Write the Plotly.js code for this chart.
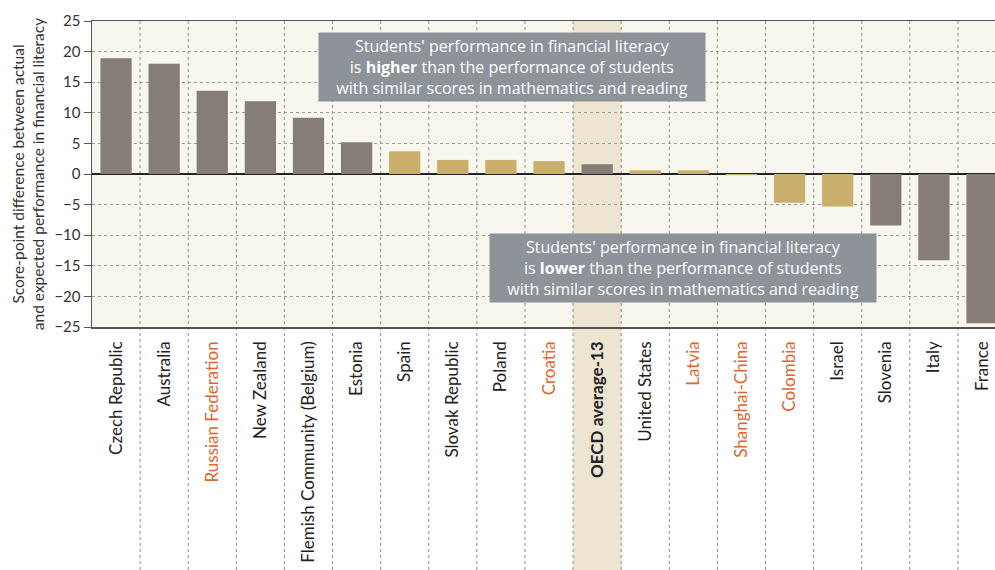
<!DOCTYPE html>
<html>
<head>
<meta charset="utf-8">
<script src="https://cdn.plot.ly/plotly-3.0.1.min.js"></script>
<style>
html,body{margin:0;padding:0;background:#ffffff;overflow:hidden;}
#chart{width:995px;height:570px;}
</style>
</head>
<body>
<div id="chart"></div>
<script>
// Data
const categories = ["Czech Republic","Australia","Russian Federation","New Zealand","Flemish Community (Belgium)","Estonia","Spain","Slovak Republic","Poland","Croatia","OECD average-13","United States","Latvia","Shanghai-China","Colombia","Israel","Slovenia","Italy","France"];
const values = [18.9,18.0,13.6,11.9,9.2,5.2,3.7,2.3,2.3,2.1,1.6,0.6,0.6,-0.2,-4.7,-5.3,-8.4,-14.1,-24.4];
const significant = [true,true,true,true,true,true,false,false,false,false,true,false,false,false,false,false,true,true,true];
const partner = [false,false,true,false,false,false,false,false,false,true,false,false,true,true,true,false,false,false,false];
const averageLabel = "OECD average-13";
const yTicks = [25,20,15,10,5,0,-5,-10,-15,-20,-25];

const FONT = "Lato, 'Open Sans', sans-serif";
const BOXFONT = "'Open Sans', Lato, sans-serif";
const x = categories.map((c,i)=>i);
const barColors = significant.map(s => s ? "#867d77" : "#c9ae6c");
const tickText = categories.map((c,i)=>{
  if (c === averageLabel) return "<b>" + c + "</b>";
  if (partner[i]) return '<span style="color:#e0662f">' + c + '</span>';
  return c;
});
const avgIdx = categories.indexOf(averageLabel);

const plotH = 306, bottomM = 243;
const shapes = [];
// highlight column for OECD average
shapes.push({type:"rect", xref:"x", yref:"paper", x0:avgIdx-0.5, x1:avgIdx+0.5, y0:-bottomM/plotH, y1:1,
  fillcolor:"#ede4d2", line:{width:0}, layer:"below"});
// vertical dashed separators
for (let i=0;i<categories.length-1;i++){
  shapes.push({type:"line", xref:"x", yref:"paper", x0:i+0.5, x1:i+0.5, y0:-bottomM/plotH, y1:1,
    line:{color:"#8c8c8c", width:1, dash:"3px,3px"}, layer:"below"});
}

const data = [{
  type:"bar", x:x, y:values, width:0.65,
  marker:{color:barColors, line:{width:0}},
  hoverinfo:"skip"
}];

const layout = {
  width:995, height:570,
  margin:{l:92, r:0, t:21, b:bottomM, pad:0},
  paper_bgcolor:"#ffffff",
  plot_bgcolor:"#f8f7ee",
  showlegend:false,
  font:{family:FONT, color:"#222"},
  xaxis:{
    range:[-0.5, 18.27],
    tickmode:"array", tickvals:x, ticktext:tickText,
    tickangle:-90, tickfont:{size:17, color:"#222", family:FONT},
    showgrid:false, zeroline:false,
    showline:true, mirror:true, linecolor:"#555", linewidth:1.5,
    ticks:"", ticklabelstandoff:6,
    fixedrange:true
  },
  yaxis:{
    range:[-25,25], tickmode:"array", tickvals:yTicks,
    tickfont:{size:15, color:"#333", family:FONT},
    ticks:"outside", ticklen:7, tickcolor:"#555", tickwidth:1,
    showline:true, linecolor:"#555", linewidth:1.5,
    showgrid:true, gridcolor:"#9a9a9a", gridwidth:1, griddash:"3px,3px",
    zeroline:true, zerolinecolor:"#222", zerolinewidth:1.5,
    title:{text:"Score-point difference between actual<br>and expected performance in financial literacy",
      font:{size:15.5, color:"#333", family:FONT}, standoff:6},
    fixedrange:true
  },
  shapes:shapes,
  annotations:[
    {xref:"x", yref:"y", x:8.23, y:17.5, showarrow:false,
     text:"Students' performance in financial literacy<br>is <b>higher</b> than the performance of students<br>with similar scores in mathematics and reading",
     font:{size:16, color:"#ffffff", family:BOXFONT}, bgcolor:"#8e939a", width:380, height:62, borderpad:3, align:"center"},
    {xref:"x", yref:"y", x:11.79, y:-15.36, showarrow:false,
     text:"Students' performance in financial literacy<br>is <b>lower</b> than the performance of students<br>with similar scores in mathematics and reading",
     font:{size:16, color:"#ffffff", family:BOXFONT}, bgcolor:"#8e939a", width:380, height:62, borderpad:3, align:"center"}
  ]
};

Plotly.newPlot("chart", data, layout, {displayModeBar:false, staticPlot:true});
</script>
</body>
</html>
